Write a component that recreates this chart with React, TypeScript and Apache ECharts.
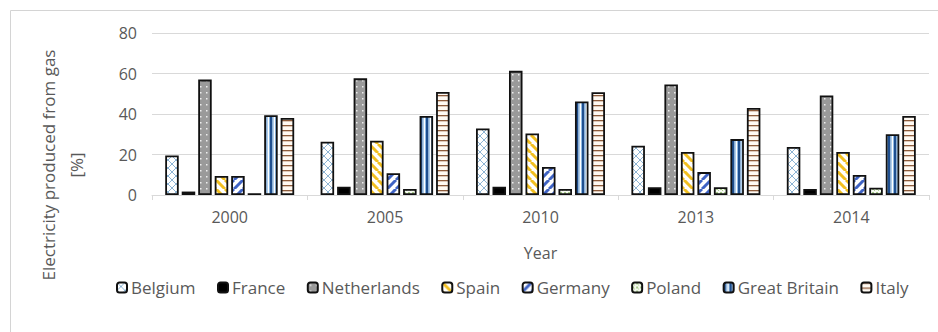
import React, { useEffect, useRef } from "react";
import * as echarts from "echarts";

// Share of electricity produced from gas, per country and year [%]
const years = ["2000", "2005", "2010", "2013", "2014"];
const countries = ["Belgium", "France", "Netherlands", "Spain", "Germany", "Poland", "Great Britain", "Italy"];

const belgium = [19.5, 26.3, 32.9, 24.3, 23.7];
const france = [1.7, 4.1, 4.1, 3.8, 3.0];
const netherlands = [57.0, 57.6, 61.3, 54.6, 49.1];
const spain = [9.4, 26.8, 30.4, 21.2, 21.2];
const germany = [9.4, 10.8, 13.8, 11.3, 9.9];
const poland = [0.9, 3.0, 3.0, 3.8, 3.6];
const greatBritain = [39.4, 39.0, 46.2, 27.6, 30.0];
const italy = [38.0, 50.9, 50.8, 43.0, 39.0];

const seriesValues = [belgium, france, netherlands, spain, germany, poland, greatBritain, italy];

const FONT = "'Open Sans', 'Noto Sans', sans-serif";
const TEXT = "#595959";
const GRID = "#d9d9d9";

function makeCanvas(w: number, h: number, draw: (ctx: CanvasRenderingContext2D) => void) {
  const c = document.createElement("canvas");
  c.width = w;
  c.height = h;
  const ctx = c.getContext("2d")!;
  draw(ctx);
  return { image: c, repeat: "repeat", imageWidth: w, imageHeight: h } as any;
}

function diagonal(color: string, size: number, width: number, forward: boolean) {
  return makeCanvas(size, size, (ctx) => {
    ctx.fillStyle = "#ffffff";
    ctx.fillRect(0, 0, size, size);
    ctx.strokeStyle = color;
    ctx.lineWidth = width;
    for (let k = -size; k <= size; k += size) {
      ctx.beginPath();
      if (forward) {
        ctx.moveTo(k, size);
        ctx.lineTo(k + size, 0);
      } else {
        ctx.moveTo(k, 0);
        ctx.lineTo(k + size, size);
      }
      ctx.stroke();
    }
  });
}

function buildFills() {
  const crossHatch = makeCanvas(8, 8, (ctx) => {
    ctx.fillStyle = "#ffffff";
    ctx.fillRect(0, 0, 8, 8);
    ctx.strokeStyle = "#8db4d4";
    ctx.lineWidth = 1;
    for (let k = -8; k <= 8; k += 8) {
      ctx.beginPath();
      ctx.moveTo(k, 0);
      ctx.lineTo(k + 8, 8);
      ctx.stroke();
      ctx.beginPath();
      ctx.moveTo(k, 8);
      ctx.lineTo(k + 8, 0);
      ctx.stroke();
    }
  });
  const dots = makeCanvas(6, 6, (ctx) => {
    ctx.fillStyle = "#9a9a9a";
    ctx.fillRect(0, 0, 6, 6);
    ctx.fillStyle = "#eeeeee";
    ctx.fillRect(2, 2, 1.5, 1.5);
  });
  const spainFill = diagonal("#f2bf1f", 9, 3, false);
  const germanyFill = diagonal("#3f63c4", 9, 3, true);
  const smallCheck = makeCanvas(4, 4, (ctx) => {
    ctx.fillStyle = "#f6faf1";
    ctx.fillRect(0, 0, 4, 4);
    ctx.fillStyle = "#a9cc8c";
    ctx.fillRect(0, 0, 2, 2);
    ctx.fillRect(2, 2, 1, 1);
  });
  const verticals = makeCanvas(6, 4, (ctx) => {
    ctx.fillStyle = "#ffffff";
    ctx.fillRect(0, 0, 6, 4);
    ctx.fillStyle = "#1f4f8f";
    ctx.fillRect(0, 0, 2.5, 4);
    ctx.fillStyle = "#8fb9e2";
    ctx.fillRect(2.5, 0, 1.2, 4);
    ctx.fillRect(5, 0, 1, 4);
  });
  const horizontals = makeCanvas(4, 5, (ctx) => {
    ctx.fillStyle = "#fffaf3";
    ctx.fillRect(0, 0, 4, 5);
    ctx.fillStyle = "#8e5c3c";
    ctx.fillRect(0, 0, 4, 1.3);
  });
  return [crossHatch, "#000000", dots, spainFill, germanyFill, smallCheck, verticals, horizontals];
}

export default function App() {
  const ref = useRef<HTMLDivElement>(null);

  useEffect(() => {
    if (!ref.current) return;
    const chart = echarts.init(ref.current, undefined, { renderer: "svg" });
    const fills = buildFills();

    chart.setOption({
      animation: false,
      backgroundColor: "#ffffff",
      grid: { left: 152, right: 9, top: 33, bottom: 137, containLabel: false },
      legend: {
        data: countries,
        top: 274,
        left: 111,
        itemWidth: 10,
        itemHeight: 10,
        itemGap: 21.5,
        textStyle: { fontFamily: FONT, fontSize: 17, color: TEXT, padding: [0, 0, 0, -1] },
      },
      xAxis: {
        type: "category",
        data: years,
        name: "Year",
        nameLocation: "middle",
        nameGap: 50,
        nameTextStyle: { fontFamily: FONT, fontSize: 16, color: TEXT },
        axisLine: { lineStyle: { color: GRID, width: 1 } },
        axisTick: { show: true, length: 5, lineStyle: { color: GRID } },
        axisLabel: { fontFamily: FONT, fontSize: 16, color: TEXT, margin: 14 },
      },
      yAxis: {
        type: "value",
        min: 0,
        max: 80,
        interval: 20,
        axisLine: { show: false },
        axisTick: { show: false },
        axisLabel: { fontFamily: FONT, fontSize: 16, color: TEXT, margin: 15 },
        splitLine: { lineStyle: { color: GRID, width: 1 } },
      },
      graphic: [
        {
          type: "rect",
          silent: true,
          shape: { x: 10.5, y: 10.5, width: 1000, height: 400 },
          style: { fill: "none", stroke: "#d4d4d4", lineWidth: 1 },
          z: -10,
        },
        {
          type: "text",
          x: 62,
          y: 165,
          rotation: Math.PI / 2,
          style: {
            text: "Electricity produced from gas\n[%]",
            fontFamily: FONT,
            fontSize: 17,
            lineHeight: 28,
            fill: TEXT,
            align: "center",
            verticalAlign: "middle",
          },
        },
      ],
      series: countries.map((name, i) => ({
        name,
        type: "bar",
        data: seriesValues[i],
        barGap: "22%",
        barCategoryGap: "17%",
        itemStyle: { color: fills[i], borderColor: "#111111", borderWidth: 1.8 },
      })),
    });

    return () => chart.dispose();
  }, []);

  return (
    <div
      ref={ref}
      style={{ position: "fixed", left: 0, top: 0, width: 938, height: 332, background: "#fff" }}
    />
  );
}
